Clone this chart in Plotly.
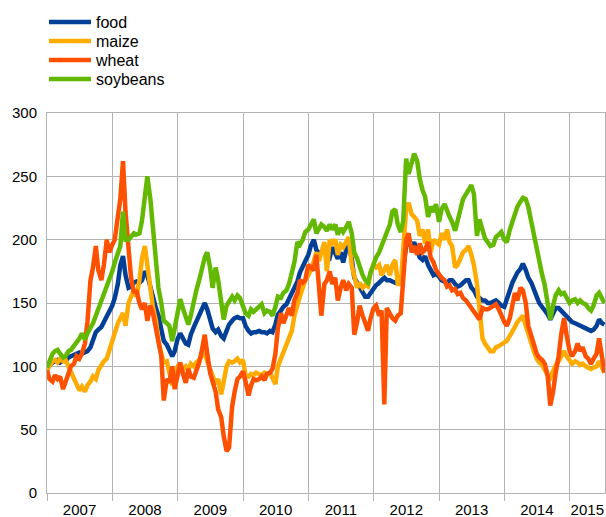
import plotly.graph_objects as go
import pandas as pd

# semi-monthly observation dates (1st and 15th of each month)
dates = pd.date_range("2007-01-01", periods=206, freq="SMS")

food = [99, 101, 103, 104, 105, 103, 105, 104, 107, 108,
        109, 110, 111, 110, 111, 112, 115, 122, 127, 129,
        131, 135, 139, 143, 148, 154, 165, 180, 187, 172,
        162, 163, 166, 167, 166, 168, 175, 172, 162, 155,
        146, 140, 130, 120, 117, 113, 108, 112, 122, 126,
        122, 118, 117, 125, 131, 135, 140, 145, 150, 145,
        135, 130, 127, 129, 124, 122, 128, 133, 136, 138,
        139, 138, 138, 132, 128, 126, 127, 127, 128, 127,
        127, 126, 128, 127, 133, 141, 144, 147, 149, 153,
        158, 162, 167, 174, 180, 183, 188, 195, 200, 192,
        189, 190, 192, 188, 186, 194, 190, 185, 190, 182,
        192, 195, 185, 170, 166, 162, 158, 155, 155, 158,
        162, 164, 166, 168, 170, 168, 168, 167, 166, 167,
        165, 178, 195, 198, 194, 198, 190, 186, 184, 187,
        180, 176, 172, 173, 171, 168, 167, 166, 168, 168,
        165, 163, 164, 166, 168, 168, 162, 160, 155, 154,
        152, 152, 150, 150, 151, 152, 150, 148, 147, 152,
        160, 166, 171, 174, 177, 181, 176, 170, 166, 160,
        155, 150, 147, 145, 141, 137, 142, 146, 146, 144,
        142, 139, 137, 135, 134, 133, 132, 131, 130, 129,
        128, 129, 132, 137, 134, 133]

maize = [97, 100, 104, 105, 103, 106, 104, 105, 100, 97,
         92, 88, 81, 84, 80, 85, 88, 92, 90, 97,
         101, 104, 106, 112, 120, 128, 134, 138, 142, 132,
         150, 155, 160, 155, 168, 185, 195, 180, 158, 147,
         136, 120, 110, 103, 104, 94, 85, 92, 100, 100,
         98, 100, 97, 102, 100, 103, 105, 108, 112, 104,
         97, 92, 86, 90, 78, 88, 100, 104, 103, 104,
         106, 103, 105, 93, 92, 94, 93, 95, 94, 93,
         95, 94, 95, 90, 86, 100, 106, 112, 118, 124,
         128, 140, 150, 155, 162, 168, 172, 176, 183, 190,
         183, 190, 198, 175, 200, 197, 200, 188, 196, 194,
         198, 202, 180, 172, 162, 166, 162, 164, 163, 174,
         180, 178, 180, 172, 176, 180, 172, 180, 184, 165,
         165, 190, 224, 229, 220, 218, 215, 203, 208, 197,
         208, 190, 200, 198, 196, 205, 200, 208, 198, 195,
         178, 180, 186, 190, 192, 195, 188, 180, 165, 148,
         122, 118, 114, 112, 112, 115, 116, 117, 118, 120,
         124, 127, 131, 135, 138, 140, 132, 125, 118, 112,
         106, 103, 101, 97, 93, 91, 96, 101, 104, 108,
         112, 108, 104, 102, 104, 103, 101, 102, 100, 99,
         98, 99, 100, 104, 98, 95]

wheat = [97, 90, 88, 93, 90, 92, 82, 88, 96, 100,
         102, 108, 106, 110, 118, 135, 168, 178, 195, 176,
         168, 180, 200, 190, 196, 200, 218, 232, 262, 222,
         193, 170, 158, 160, 150, 145, 150, 136, 148, 142,
         130, 120, 108, 73, 90, 87, 100, 82, 95, 103,
         93, 87, 98, 92, 91, 96, 103, 112, 125, 110,
         95, 88, 80, 66, 60, 45, 33, 36, 68, 80,
         90, 92, 96, 88, 77, 85, 90, 89, 90, 92,
         89, 94, 95, 98, 110, 130, 142, 134, 140, 146,
         140, 152, 158, 168, 166, 168, 180, 178, 176, 188,
         158, 140, 165, 168, 175, 165, 170, 152, 162, 168,
         160, 165, 162, 125, 135, 148, 140, 133, 128, 138,
         146, 148, 140, 144, 70, 146, 142, 138, 136, 140,
         142, 165, 200, 205, 190, 195, 188, 197, 190, 192,
         198, 186, 182, 176, 172, 170, 168, 163, 164, 160,
         161, 157, 158, 154, 152, 149, 147, 144, 140, 137,
         146, 145, 145, 146, 148, 149, 145, 140, 135, 132,
         138, 148, 158, 152, 162, 160, 150, 132, 125, 117,
         110, 107, 105, 102, 92, 69, 80, 95, 108, 125,
         138, 125, 112, 108, 112, 118, 112, 115, 108, 106,
         102, 106, 110, 122, 108, 95]

soybeans = [99, 104, 110, 112, 113, 110, 107, 108, 112, 113,
            116, 119, 122, 126, 121, 126, 130, 134, 140, 145,
            152, 158, 162, 168, 175, 182, 190, 195, 222, 200,
            200, 203, 205, 204, 205, 215, 238, 250, 232, 210,
            185, 162, 150, 136, 134, 132, 120, 130, 145, 153,
            145, 140, 133, 140, 152, 160, 168, 178, 186, 190,
            178, 162, 178, 168, 148, 137, 148, 152, 155, 152,
            156, 154, 148, 142, 140, 145, 143, 145, 147, 149,
            142, 144, 143, 140, 147, 155, 154, 158, 160, 165,
            174, 182, 198, 196, 200, 206, 208, 212, 216, 205,
            208, 212, 210, 207, 212, 208, 212, 204, 209, 206,
            210, 214, 205, 190, 185, 178, 172, 168, 166, 174,
            182, 186, 190, 195, 200, 205, 212, 222, 224, 212,
            206, 215, 264, 252, 262, 268, 262, 248, 239, 234,
            218, 226, 222, 228, 214, 224, 228, 222, 218, 214,
            207, 215, 226, 232, 236, 240, 243, 236, 203, 216,
            208, 201, 198, 195, 196, 202, 204, 206, 200, 198,
            208, 214, 220, 226, 230, 233, 232, 226, 214, 204,
            190, 182, 172, 164, 150, 137, 148, 156, 160, 157,
            158, 155, 150, 152, 153, 150, 152, 150, 149, 146,
            144, 148, 156, 158, 154, 150]

series_names = ["food", "maize", "wheat", "soybeans"]
series_values = [food, maize, wheat, soybeans]
series_colors = ["#023f97", "#ffab00", "#ff5000", "#63b800"]

year_labels = ["2007", "2008", "2009", "2010", "2011", "2012", "2013", "2014", "2015"]
year_label_pos = ["2007-07-02", "2008-07-02", "2009-07-02", "2010-07-02", "2011-07-02",
                  "2012-07-02", "2013-07-02", "2014-07-02", "2015-04-10"]
year_starts = ["2007-01-01", "2008-01-01", "2009-01-01", "2010-01-01", "2011-01-01",
               "2012-01-01", "2013-01-01", "2014-01-01", "2015-01-01"]
y_ticks = [0, 50, 100, 150, 200, 250, 300]

GRID = "#b3b3b3"
FONT = "Liberation Sans, Arial, sans-serif"
W, H = 606, 517

fig = go.Figure()
legend_ids = ["legend", "legend2", "legend3", "legend4"]
for name, vals, col, lg in zip(series_names, series_values, series_colors, legend_ids):
    fig.add_trace(go.Scatter(x=dates, y=vals, mode="lines", name=name,
                             line=dict(color=col, width=4.5), legend=lg))

row_centers = [22, 41, 60, 79]
legend_layout = {}
for lg, rc in zip(legend_ids, row_centers):
    legend_layout[lg] = dict(
        x=44 / W, y=1 - (rc - 17) / H, xref="container", yref="container",
        xanchor="left", yanchor="top", bgcolor="rgba(0,0,0,0)", borderwidth=0,
        itemwidth=42, font=dict(family=FONT, size=16, color="#000000"))

fig.update_layout(
    width=W, height=H,
    margin=dict(l=47, r=1, t=113, b=24, autoexpand=False),
    paper_bgcolor="white", plot_bgcolor="white",
    font=dict(family=FONT, size=15, color="#000000"),
    showlegend=True,
    **legend_layout,
    xaxis=dict(
        type="date", range=["2007-01-01", "2015-07-18"],
        tickmode="array", tickvals=year_label_pos, ticktext=year_labels,
        ticks="", showgrid=False, zeroline=False,
        showline=True, linecolor=GRID, linewidth=1, mirror=True,
        tickfont=dict(family=FONT, size=15, color="#000000"),
        ticklabelstandoff=3,
        minor=dict(tickmode="array", tickvals=year_starts, ticks="outside",
                   ticklen=7, tickcolor=GRID, tickwidth=1,
                   showgrid=True, gridcolor=GRID, gridwidth=1),
        automargin=False,
    ),
    yaxis=dict(
        range=[0, 300], tickmode="array", tickvals=y_ticks,
        ticks="", showgrid=True, gridcolor=GRID, gridwidth=1, zeroline=False,
        showline=True, linecolor=GRID, linewidth=1, mirror=True,
        tickfont=dict(family=FONT, size=15, color="#000000"),
        ticklabelstandoff=6,
        automargin=False,
    ),
)

fig.write_html("out.html",
               config={"displayModeBar": False},
               post_script="document.body.style.margin='0';document.body.style.padding='0';")
